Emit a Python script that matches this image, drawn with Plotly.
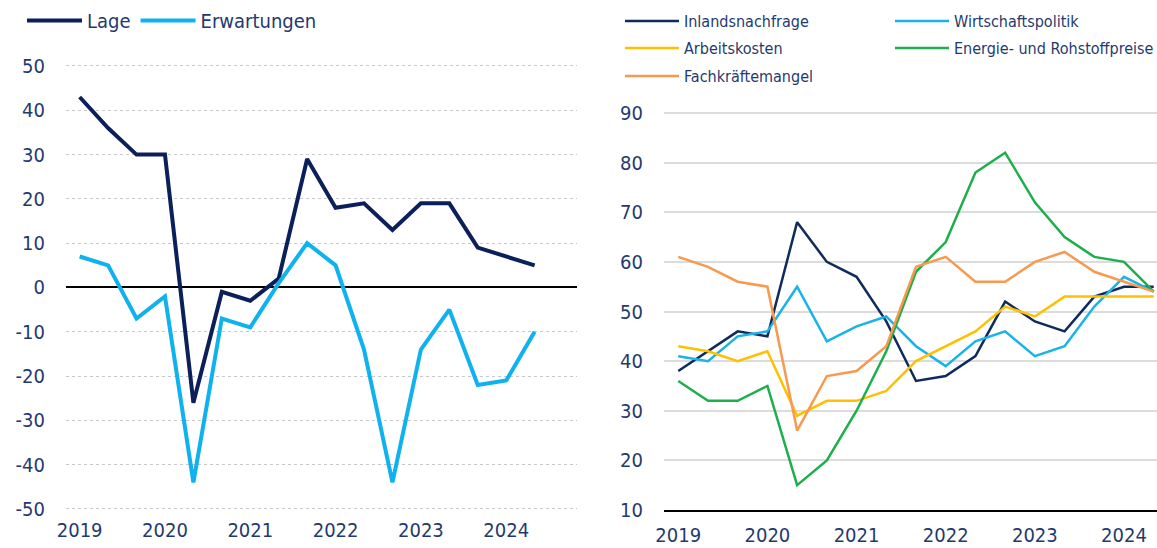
import plotly.graph_objects as go

# ---- data ----
periods = [2019 + i / 3 for i in range(17)]  # three surveys per year, 2019 .. 2024
year_ticks = [2019, 2020, 2021, 2022, 2023, 2024]
year_labels = ["2019", "2020", "2021", "2022", "2023", "2024"]

left_ticks = [-50, -40, -30, -20, -10, 0, 10, 20, 30, 40, 50]
left_labels = ["-50", "-40", "-30", "-20", "-10", "0", "10", "20", "30", "40", "50"]
right_ticks = [10, 20, 30, 40, 50, 60, 70, 80, 90]

lage = [43, 36, 30, 30, -26, -1, -3, 2, 29, 18, 19, 13, 19, 19, 9, 7, 5]
erwartungen = [7, 5, -7, -2, -44, -7, -9, 1, 10, 5, -14, -44, -14, -5, -22, -21, -10]

inlandsnachfrage = [38, 42, 46, 45, 68, 60, 57, 48, 36, 37, 41, 52, 48, 46, 53, 55, 55]
wirtschaftspolitik = [41, 40, 45, 46, 55, 44, 47, 49, 43, 39, 44, 46, 41, 43, 51, 57, 54]
arbeitskosten = [43, 42, 40, 42, 29, 32, 32, 34, 40, 43, 46, 51, 49, 53, 53, 53, 53]
energie = [36, 32, 32, 35, 15, 20, 30, 42, 58, 64, 78, 82, 72, 65, 61, 60, 54]
fachkraefte = [61, 59, 56, 55, 26, 37, 38, 43, 59, 61, 56, 56, 60, 62, 58, 56, 54]

TXT = "#1f3a6e"
FONT = "Liberation Sans Narrow, DejaVu Sans Condensed, Roboto Condensed, Liberation Sans, sans-serif"

W, H = 1157, 548
fig = go.Figure()

fig.add_trace(go.Scatter(x=periods, y=lage, name="Lage", mode="lines",
                         line=dict(color="#0b1f5a", width=4), xaxis="x", yaxis="y", legend="legend"))
fig.add_trace(go.Scatter(x=periods, y=erwartungen, name="Erwartungen", mode="lines",
                         line=dict(color="#0fb2ee", width=4), xaxis="x", yaxis="y", legend="legend"))

right_series = [
    ("Inlandsnachfrage", inlandsnachfrage, "#0e2b5c", "legend2"),
    ("Wirtschaftspolitik", wirtschaftspolitik, "#19b3ea", "legend2"),
    ("Arbeitskosten", arbeitskosten, "#ffc000", "legend3"),
    ("Energie- und Rohstoffpreise", energie, "#1daf4c", "legend3"),
    ("Fachkräftemangel", fachkraefte, "#f7994f", "legend4"),
]
for name, vals, col, lg in right_series:
    fig.add_trace(go.Scatter(x=periods, y=vals, name=name, mode="lines",
                             line=dict(color=col, width=2.5), xaxis="x2", yaxis="y2", legend=lg))


def px_x(p):
    return p / W


def px_y(p):
    return 1 - p / H


def right_legend(top):
    return dict(orientation="h", x=px_x(620), y=px_y(top), xanchor="left", yanchor="top",
                font=dict(size=16, color=TXT), bgcolor="rgba(0,0,0,0)",
                itemwidth=54, entrywidth=201, entrywidthmode="pixels")


fig.update_layout(
    width=W, height=H,
    margin=dict(l=0, r=0, t=0, b=0, autoexpand=False),
    paper_bgcolor="white", plot_bgcolor="white",
    font=dict(family=FONT, color=TXT, size=19),
    showlegend=True,
    xaxis=dict(domain=[px_x(66), px_x(577)], range=[2018.84, 2024.83], automargin=False,
               tickvals=year_ticks, ticktext=year_labels, showgrid=False, zeroline=False,
               showline=False, ticks="", ticklabelstandoff=6,
               tickfont=dict(size=20, color=TXT), anchor="y"),
    yaxis=dict(domain=[px_y(510), px_y(55)], range=[-50.23, 52.48], automargin=False,
               tickvals=left_ticks, ticktext=left_labels,
               showgrid=True, gridcolor="#c8c8c8", griddash="dot", gridwidth=1,
               zeroline=True, zerolinecolor="#000000", zerolinewidth=2,
               ticks="", ticklabelstandoff=20, tickfont=dict(size=20, color=TXT), anchor="x"),
    xaxis2=dict(domain=[px_x(664), 1.0], range=[2018.84, 2024.37], automargin=False,
                tickvals=year_ticks, ticktext=year_labels, showgrid=False, zeroline=False,
                showline=True, linecolor="#000000", linewidth=2, ticks="", ticklabelstandoff=6,
                tickfont=dict(size=20, color=TXT), anchor="y2"),
    yaxis2=dict(domain=[px_y(510), px_y(100)], range=[10, 92.62], automargin=False,
                tickvals=right_ticks,
                showgrid=True, gridcolor="#dcdcdc", gridwidth=1.5, zeroline=False,
                ticks="", ticklabelstandoff=20, tickfont=dict(size=20, color=TXT), anchor="x2"),
    legend=dict(orientation="h", x=px_x(22), y=px_y(1), xanchor="left", yanchor="top",
                font=dict(size=20, color=TXT), bgcolor="rgba(0,0,0,0)", itemwidth=55),
    legend2=right_legend(4),
    legend3=right_legend(31),
    legend4=right_legend(59),
)

fig.write_html("out.html", config={"displayModeBar": False},
               post_script="document.body.style.margin='0px';document.body.style.overflow='hidden';")
